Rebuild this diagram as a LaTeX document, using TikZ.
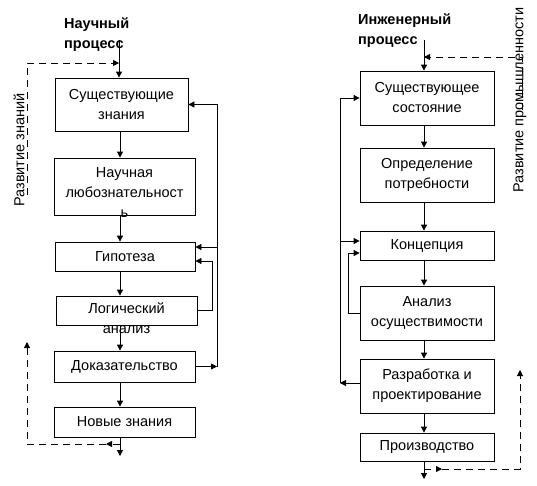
\documentclass[tikz,border=0pt]{standalone}
\usepackage{fontspec}
\setmainfont{Liberation Sans}
\usetikzlibrary{arrows.meta}
\begin{document}
\begin{tikzpicture}[x=1pt,y=-1pt,
  box/.style={draw, line width=0.8pt, inner sep=0pt, align=center, font=\fontsize{14.5}{20}\selectfont},
  txt/.style={inner sep=0pt, align=center, font=\fontsize{14.5}{20}\selectfont},
  ttl/.style={inner sep=0pt, align=left, font=\bfseries\fontsize{14.5}{20}\selectfont},
  tip/.style={-{Triangle[length=6pt,width=6pt]}},
  flow/.style={line width=0.8pt, tip},
  plain/.style={line width=0.8pt},
  dsh/.style={line width=0.8pt, dash pattern=on 7pt off 5pt},
]
\useasboundingbox (0,0) rectangle (537,485);

% ---------- left: scientific process ----------
\node[ttl, anchor=north west] (Lt) at (64,18) {Научный\\процесс};
\node[box, minimum width=133pt, minimum height=53pt] (L1) at (121.5,104.5) {Существующие\\знания};
\node[box, minimum width=141pt, minimum height=57pt] (L2) at (124.5,186.5) {};
\node[txt] (L2t) at (124.5,193) {Научная\\любознательност\\ь};
\node[box, minimum width=140pt, minimum height=29pt] (L3) at (125,256.5) {Гипотеза};
\node[box, minimum width=141pt, minimum height=29pt] (L4) at (126.5,310.5) {};
\node[txt] (L4t) at (126.5,318.5) {Логический\\анализ};
\node[box, minimum width=141pt, minimum height=31pt] (L5) at (124.5,366.5) {Доказательство};
\node[box, minimum width=141pt, minimum height=30pt] (L6) at (124.5,422) {Новые знания};

\coordinate (lsp) at (120,0);
\coordinate (ltop) at (119,40);
\coordinate (lend) at (120,456);
\draw[flow] (ltop) -- (L1.north -| ltop);
\draw[flow] (L1.south -| lsp) -- (L2.north -| lsp);
\draw[flow] (L2.south -| lsp) -- (L3.north -| lsp);
\draw[flow] (L3.south -| lsp) -- (L4.north -| lsp);
\draw[flow] (L4.south -| lsp) -- (L5.north -| lsp);
\draw[flow] (L5.south -| lsp) -- (L6.north -| lsp);
\draw[flow] (L6.south -| lsp) -- (lend);

% feedback loops on the right
\coordinate (loX) at (217,0);
\coordinate (liX) at (212,0);
\coordinate (L3a) at ([yshift=9.5pt]L3.east);
\coordinate (L3b) at ([yshift=-4.5pt]L3.east);
\draw[flow] (L5.east) -- (L5.east -| loX);
\draw[flow] (L5.east -| loX) |- (L1.east);
\draw[flow] (L3a -| loX) -- (L3a);
\draw[flow] (L4.east) -| (liX |- L3b) -- (L3b);

% dashed knowledge development
\node[txt, rotate=90] (lz) at (19,150) {Развитие знаний};
\coordinate (ldA) at (27,195);
\coordinate (ldB) at (119,63);
\draw[dsh, tip] (ldA) |- (ldB);
\coordinate (ldC) at (120,444);
\coordinate (ldC2) at (106,444);
\coordinate (ldD) at (27,342);
\draw[dsh, tip] (ldC) -- (ldC2);
\draw[dsh, tip] (ldC2) -| (ldD);

% ---------- right: engineering process ----------
\node[ttl, anchor=north west] (Rt) at (358,14) {Инженерный\\процесс};
\node[box, minimum width=134pt, minimum height=54pt] (R1) at (427,98) {Существующее\\состояние};
\node[box, minimum width=134pt, minimum height=54pt] (R2) at (427,175) {Определение\\потребности};
\node[box, minimum width=134pt, minimum height=29pt] (R3) at (427,245.5) {Концепция};
\node[box, minimum width=134pt, minimum height=54pt] (R4) at (427,313) {Анализ\\осуществимости};
\node[box, minimum width=134pt, minimum height=54pt] (R5) at (427,386) {Разработка и\\проектирование};
\node[box, minimum width=134pt, minimum height=28pt] (R6) at (427,447) {Производство};

\coordinate (rsp) at (424,0);
\coordinate (rtop) at (424,40);
\coordinate (rend) at (424,479);
\draw[flow] (rtop) -- (R1.north -| rtop);
\draw[flow] (R1.south -| rsp) -- (R2.north -| rsp);
\draw[flow] (R2.south -| rsp) -- (R3.north -| rsp);
\draw[flow] (R3.south -| rsp) -- (R4.north -| rsp);
\draw[flow] (R4.south -| rsp) -- (R5.north -| rsp);
\draw[flow] (R5.south -| rsp) -- (R6.north -| rsp);
\draw[flow] (R6.south -| rsp) -- (rend);

% feedback loops on the left
\coordinate (roX) at (340,0);
\coordinate (riX) at (348,0);
\coordinate (R5a) at ([yshift=3pt]R5.west);
\coordinate (R3a) at ([yshift=4.5pt]R3.west);
\coordinate (R3b) at ([yshift=-7.5pt]R3.west);
\draw[flow] (R5a) -- (R5a -| roX);
\draw[flow] (R5a -| roX) |- (R1.west);
\draw[flow] (R3a -| roX) -- (R3a);
\draw[flow] (R4.west) -| (riX |- R3b) -- (R3b);

% dashed industry development
\node[txt, rotate=90] (rz) at (520,100) {Развитие промышленности};
\coordinate (rdA) at (522,110);
\coordinate (rdB) at (424,57);
\draw[dsh, tip] (rdA) |- (rdB);
\coordinate (rdC) at (424,469);
\coordinate (rdC2) at (442,469);
\coordinate (rdD) at (520,370);
\draw[dsh, tip] (rdC) -- (rdC2);
\draw[dsh, tip] (rdC2) -| (rdD);
\end{tikzpicture}
\end{document}
